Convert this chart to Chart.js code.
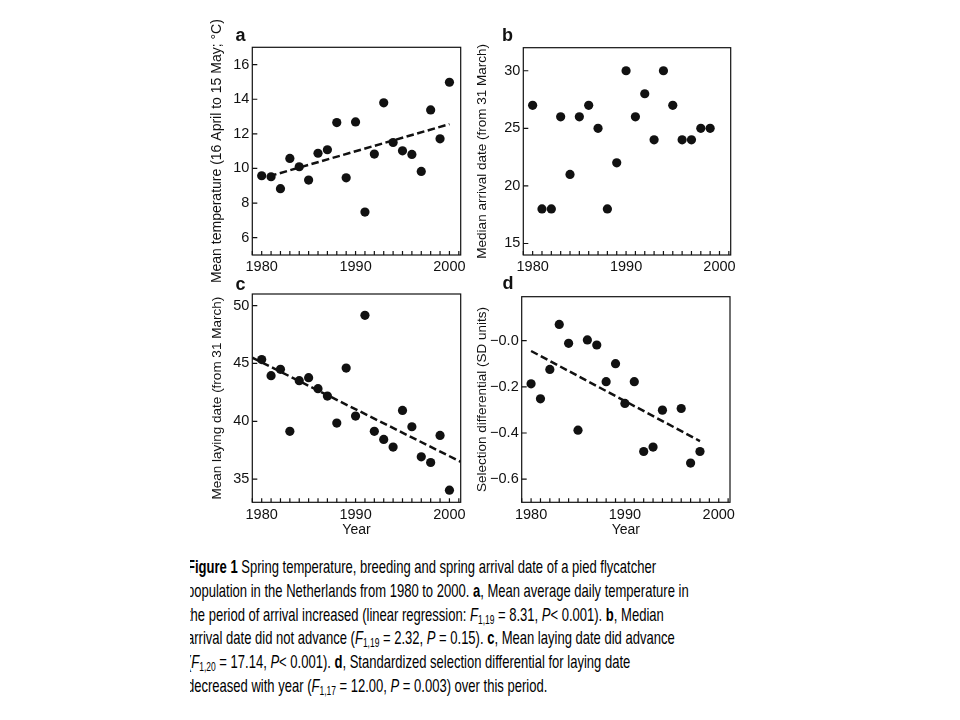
<!DOCTYPE html>
<html>
<head>
<meta charset="utf-8">
<script src="https://cdn.jsdelivr.net/npm/chart.js@4.4.1/dist/chart.umd.min.js"></script>
<style>
  body { margin: 0; background: #fff; width: 960px; height: 720px; position: relative; overflow: hidden; }
  canvas { position: absolute; }
  .lbl { position: absolute; font: bold 18px "Liberation Sans", Arial, sans-serif; color: #111; }
  #cap { position: absolute; left: 190px; top: 555px; width: 600px; height: 150px; overflow: hidden; }
  #cap .in { position: absolute; left: -3px; top: 0; transform-origin: 0 0; white-space: nowrap;
             font: 18.5px "Liberation Sans", Arial, sans-serif; color: #000; line-height: 23.8px; }
  #cap sub { font-size: 12px; vertical-align: -3px; line-height: 0; }
</style>
</head>
<body>
<canvas id="pa" width="270" height="270" style="left:200px;top:20px"></canvas>
<canvas id="pb" width="290" height="270" style="left:465px;top:20px"></canvas>
<canvas id="pc" width="270" height="270" style="left:200px;top:270px"></canvas>
<canvas id="pd" width="290" height="270" style="left:465px;top:270px"></canvas>
<div class="lbl" style="left:235.5px;top:25px">a</div>
<div class="lbl" style="left:502px;top:25px">b</div>
<div class="lbl" style="left:235.5px;top:274px">c</div>
<div class="lbl" style="left:502.5px;top:273px">d</div>
<div id="cap"><div class="in" id="capIn">
<div id="line1"><b>Figure 1</b> Spring temperature, breeding and spring arrival date of a pied flycatcher</div>
<div>population in the Netherlands from 1980 to 2000. <b>a</b>, Mean average daily temperature in</div>
<div>the period of arrival increased (linear regression: <i>F</i><sub>1,19</sub> = 8.31, <i>P</i>&lt; 0.001). <b>b</b>, Median</div>
<div>arrival date did not advance (<i>F</i><sub>1,19</sub> = 2.32, <i>P</i> = 0.15). <b>c</b>, Mean laying date did advance</div>
<div>(<i>F</i><sub>1,20</sub> = 17.14, <i>P</i>&lt; 0.001). <b>d</b>, Standardized selection differential for laying date</div>
<div>decreased with year (<i>F</i><sub>1,17</sub> = 12.00, <i>P</i> = 0.003) over this period.</div>
</div></div>
<script>
// panel a: mean temperature
var aYears = [1980, 1981, 1982, 1983, 1984, 1985, 1986, 1987, 1988, 1989, 1990,
              1991, 1992, 1993, 1994, 1995, 1996, 1997, 1998, 1999, 2000];
var aTemp = [9.58, 9.52, 8.83, 10.58, 10.1, 9.33, 10.88, 11.08, 12.65, 9.46, 12.69,
             7.48, 10.83, 13.79, 11.5, 11.02, 10.81, 9.83, 13.38, 11.71, 14.98];
var aTrendX = [1980.8, 2000];
var aTrendY = [9.55, 12.56];
var aYTicks = [6, 8, 10, 12, 14, 16];

// panel b: median arrival date
var bYears = [1980, 1981, 1982, 1983, 1984, 1985, 1986, 1987, 1988, 1989,
              1990, 1991, 1992, 1993, 1994, 1995, 1996, 1997, 1998, 1999];
var bArrival = [27, 18, 18, 26, 21, 26, 27, 25, 18, 22,
                30, 26, 28, 24, 30, 27, 24, 24, 25, 25];
var bYTicks = [15, 20, 25, 30];

// panel c: mean laying date
var cYears = [1980, 1981, 1982, 1983, 1984, 1985, 1986, 1987, 1988, 1989, 1990,
              1991, 1992, 1993, 1994, 1995, 1996, 1997, 1998, 1999, 2000];
var cLaying = [45.33, 43.94, 44.49, 39.13, 43.51, 43.77, 42.82, 42.18, 39.85, 44.6, 40.45,
               49.16, 39.13, 38.43, 37.77, 40.94, 39.53, 36.93, 36.44, 38.78, 34.05];
var cTrendX = [1979, 2001.2];
var cTrendY = [45.5, 36.5];
var cYTicks = [35, 40, 45, 50];

// panel d: selection differential
var dYears = [1980, 1981, 1982, 1983, 1984, 1985, 1986, 1987, 1988, 1989,
              1990, 1991, 1992, 1993, 1994, 1996, 1997, 1998];
var dSel = [-0.187, -0.252, -0.125, 0.07, -0.012, -0.388, 0.003, -0.019, -0.178, -0.1,
            -0.272, -0.178, -0.48, -0.461, -0.301, -0.294, -0.53, -0.48];
var dTrendX = [1980, 1998];
var dTrendY = [-0.045, -0.435];
var dYTicks = [-0.6, -0.4, -0.2, 0];
var dYLabels = ['\u22120.6', '\u22120.4', '\u22120.2', '\u22120.0'];

var xTickLabels = [1980, 1990, 2000];
var xMinorTicks = [1979, 1980, 1981, 1982, 1983, 1984, 1985, 1986, 1987, 1988, 1989, 1990,
                   1991, 1992, 1993, 1994, 1995, 1996, 1997, 1998, 1999, 2000, 2001];

var FONT = '"Liberation Sans", Arial, sans-serif';
var INK = '#111';

function pts(xs, ys) {
  return xs.map(function (x, i) { return { x: x, y: ys[i] }; });
}

var frame = {
  id: 'frame',
  afterDraw: function (chart) {
    var ctx = chart.ctx, a = chart.chartArea, x = chart.scales.x, y = chart.scales.y;
    ctx.save();
    ctx.strokeStyle = INK;
    ctx.lineWidth = 1.2;
    ctx.strokeRect(a.left, a.top, a.right - a.left, a.bottom - a.top);
    ctx.beginPath();
    x.ticks.forEach(function (t) {
      var px = x.getPixelForValue(t.value);
      ctx.moveTo(px, a.bottom);
      ctx.lineTo(px, a.bottom - 4);
    });
    y.ticks.forEach(function (t) {
      var py = y.getPixelForValue(t.value);
      ctx.moveTo(a.left, py);
      ctx.lineTo(a.left + 5, py);
    });
    ctx.stroke();
    ctx.restore();
  }
};

function makePanel(id, o) {
  var datasets = [{
    data: pts(o.xs, o.ys),
    backgroundColor: INK,
    borderWidth: 0,
    pointRadius: 4.6,
    pointHoverRadius: 4.6
  }];
  if (o.tx) {
    datasets.push({
      data: pts(o.tx, o.ty),
      showLine: true,
      borderColor: INK,
      borderWidth: 2.5,
      borderDash: [7.5, 3.5],
      pointRadius: 0
    });
  }
  return new Chart(document.getElementById(id), {
    type: 'scatter',
    data: { datasets: datasets },
    plugins: [frame],
    options: {
      responsive: false,
      animation: false,
      events: [],
      layout: { padding: { top: o.padTop, right: o.padRight, left: 0, bottom: 0 } },
      plugins: { legend: { display: false }, tooltip: { enabled: false } },
      scales: {
        x: {
          type: 'linear',
          min: 1979,
          max: 2001.2,
          afterBuildTicks: function (s) { s.ticks = xMinorTicks.map(function (v) { return { value: v }; }); },
          afterFit: function (s) { s.height = o.xH; },
          grid: { display: false, drawTicks: false },
          border: { display: false },
          ticks: {
            autoSkip: false,
            maxRotation: 0,
            padding: 3.5,
            color: INK,
            font: { family: FONT, size: 14.5 },
            callback: function (v) { return xTickLabels.indexOf(v) >= 0 ? String(v) : ''; }
          },
          title: {
            display: !!o.xTitle,
            text: o.xTitle || '',
            color: INK,
            font: { family: FONT, size: 14 },
            padding: { top: 0, bottom: 1 }
          }
        },
        y: {
          min: o.yMin,
          max: o.yMax,
          afterBuildTicks: function (s) { s.ticks = o.yTicks.map(function (v) { return { value: v }; }); },
          afterFit: function (s) { s.width = o.yW; },
          grid: { display: false, drawTicks: false },
          border: { display: false },
          ticks: {
            padding: 3,
            color: INK,
            font: { family: FONT, size: 14.5 },
            callback: function (v) {
              if (o.yLabels) return o.yLabels[o.yTicks.indexOf(v)];
              return String(v);
            }
          },
          title: {
            display: true,
            text: o.yTitle,
            color: INK,
            font: { family: FONT, size: o.yTitleSize || 13.5 },
            padding: { top: 9, bottom: 0 }
          }
        }
      }
    }
  });
}

makePanel('pa', {
  xs: aYears, ys: aTemp, tx: aTrendX, ty: aTrendY,
  yMin: 5, yMax: 17, yTicks: aYTicks,
  yTitle: 'Mean temperature (16 April to 15 May; \u00B0C)', yTitleSize: 14,
  padTop: 27.3, padRight: 9.3, yW: 52.3, xH: 35
});
makePanel('pb', {
  xs: bYears, ys: bArrival,
  yMin: 14, yMax: 32, yTicks: bYTicks,
  yTitle: 'Median arrival date (from 31 March)',
  padTop: 27.7, padRight: 24.3, yW: 58.3, xH: 35
});
makePanel('pc', {
  xs: cYears, ys: cLaying, tx: cTrendX, ty: cTrendY,
  yMin: 33, yMax: 51, yTicks: cYTicks,
  yTitle: 'Mean laying date (from 31 March)', xTitle: 'Year',
  padTop: 24, padRight: 9.3, yW: 52.3, xH: 37.7
});
makePanel('pd', {
  xs: dYears, ys: dSel, tx: dTrendX, ty: dTrendY,
  yMin: -0.7, yMax: 0.19, yTicks: dYTicks, yLabels: dYLabels,
  yTitle: 'Selection differential (SD units)', xTitle: 'Year',
  padTop: 26.7, padRight: 25, yW: 56.7, xH: 37.7
});

// squeeze the caption to the narrow typeface width of the original
var l1 = document.getElementById('line1');
var range = document.createRange();
range.selectNodeContents(l1);
var w = range.getBoundingClientRect().width;
document.getElementById('capIn').style.transform = 'scaleX(' + (469 / w) + ')';
</script>
</body>
</html>
